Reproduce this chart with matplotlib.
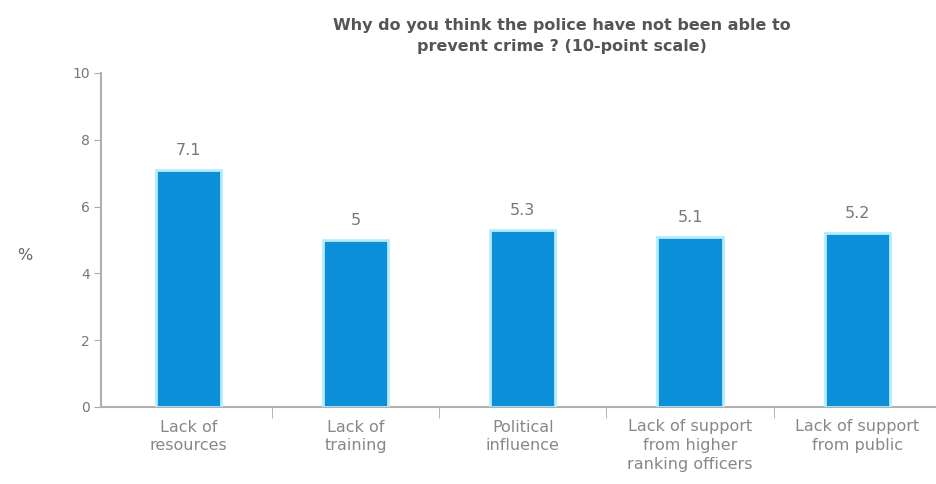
import matplotlib
matplotlib.use("Agg")
import matplotlib.pyplot as plt
import numpy as np

categories = [
    "Lack of\nresources",
    "Lack of\ntraining",
    "Political\ninfluence",
    "Lack of support\nfrom higher\nranking officers",
    "Lack of support\nfrom public",
]
values = [7.1, 5, 5.3, 5.1, 5.2]
value_labels = ["7.1", "5", "5.3", "5.1", "5.2"]
y_ticks = [0, 2, 4, 6, 8, 10]

W, H = 937, 484
fig = plt.figure(figsize=(W / 100, H / 100), dpi=100)
ax = fig.add_axes([101 / W, 1 - 407 / H, 1 - 101 / W, (407 - 73) / H])

x = np.arange(len(categories))
ax.bar(x, values, width=0.39, color="#0a8fd8", edgecolor="#b5ecfb", linewidth=2.0, zorder=3)

for xi, v, lab in zip(x, values, value_labels):
    ax.text(xi, v + 0.36, lab, ha="center", va="bottom", fontsize=11.5, color="#777777")

step = 167.25
left = -(188.3 - 101) / step
ax.set_xlim(left, left + (W - 101) / step)
ax.set_ylim(0, 10)
ax.set_yticks(y_ticks)
ax.set_yticklabels([str(t) for t in y_ticks], fontsize=10, color="#777777")
ax.set_xticks(x)
ax.set_xticklabels(categories, fontsize=11.5, color="#888888", linespacing=1.3)
ax.tick_params(axis="x", length=0, pad=9)
ax.set_xticks(np.arange(len(categories) - 1) + 0.5, minor=True)
ax.tick_params(axis="x", which="minor", length=8, color="#aaaaaa", direction="out")
ax.tick_params(axis="y", length=5, color="#aaaaaa", direction="out", pad=3)

for s in ["top", "right"]:
    ax.spines[s].set_visible(False)
for s in ["left", "bottom"]:
    ax.spines[s].set_color("#b0b0b0")
    ax.spines[s].set_linewidth(1.5)

fig.text(25 / W, 1 - 256 / H, "%", ha="center", va="center", fontsize=11.5, color="#666666")

fig.text(562 / W, 1 - 36 / H, "Why do you think the police have not been able to\nprevent crime ? (10-point scale)",
         ha="center", va="center", fontsize=11.5, fontweight="bold", color="#555555", linespacing=1.45)

fig.savefig("out.png", dpi=100)
